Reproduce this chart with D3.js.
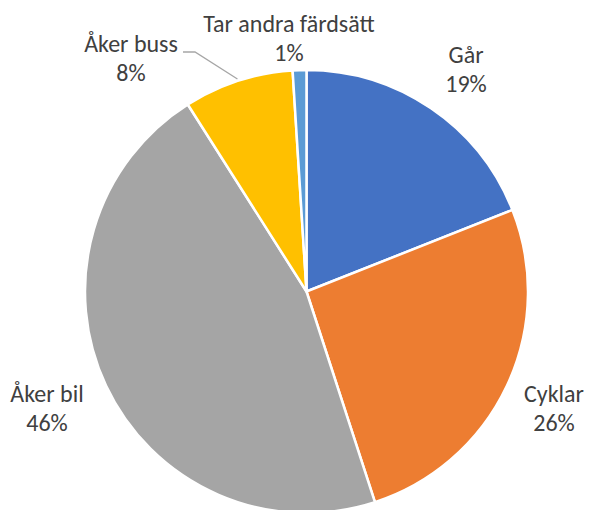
<!DOCTYPE html>
<html>
<head>
<meta charset="utf-8">
<script src="https://cdn.jsdelivr.net/npm/d3@7"></script>
<style>
  body { margin: 0; background: #fff; }
  text { font-family: Carlito, Calibri, Lato, sans-serif; fill: #404040; font-size: 24px; }
</style>
</head>
<body>
<svg id="chart" width="589" height="510"></svg>
<script>
var categories = ["Går", "Cyklar", "Åker bil", "Åker buss", "Tar andra färdsätt"];
var values = [19, 26, 46, 8, 1];
var percentLabels = ["19%", "26%", "46%", "8%", "1%"];
var colors = ["#4472C4", "#ED7D31", "#A5A5A5", "#FFC000", "#5B9BD5"];

// label anchor points (name baseline), set by eye
var labelPos = [[466, 63], [554, 402], [47, 402], [131, 52], [289, 32]];

var svg = d3.select("#chart");
var cx = 306.5, cy = 291.5, radius = 221.5;

var pie = d3.pie().sort(null).value(d => d)(values);
var arc = d3.arc().innerRadius(0).outerRadius(radius);

var g = svg.append("g").attr("transform", "translate(" + cx + "," + cy + ")");

g.selectAll("path")
  .data(pie)
  .enter()
  .append("path")
    .attr("d", arc)
    .attr("fill", (d, i) => colors[i])
    .attr("stroke", "#fff")
    .attr("stroke-width", 2.5)
    .attr("stroke-linejoin", "round");

// leader line for Åker buss
var bus = pie[3];
var mid = (bus.startAngle + bus.endAngle) / 2;
var edge = [cx + Math.sin(mid) * (radius + 2), cy - Math.cos(mid) * (radius + 2)];
svg.append("polyline")
  .attr("points", [[183, 52], [195, 52], edge].map(p => p.join(",")).join(" "))
  .attr("fill", "none")
  .attr("stroke", "#A6A6A6")
  .attr("stroke-width", 1.3);

var labels = svg.selectAll("g.label")
  .data(categories)
  .enter()
  .append("g")
    .attr("class", "label")
    .attr("transform", (d, i) => "translate(" + labelPos[i][0] + "," + labelPos[i][1] + ")");

labels.append("text")
  .attr("text-anchor", "middle")
  .text(d => d);

labels.append("text")
  .attr("text-anchor", "middle")
  .attr("y", 29)
  .text((d, i) => percentLabels[i]);
</script>
</body>
</html>
